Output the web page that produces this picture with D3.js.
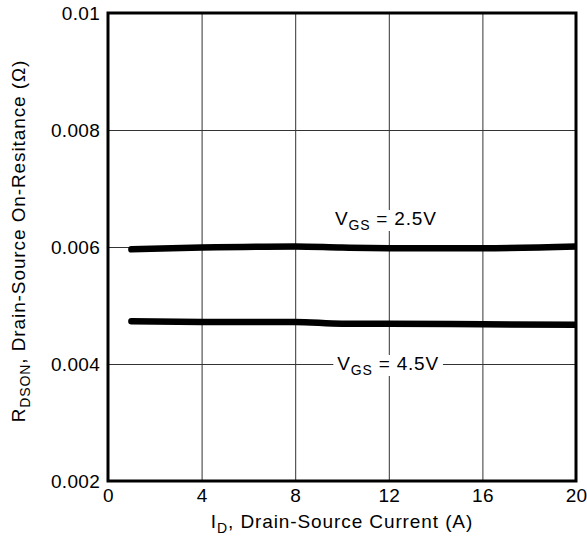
<!DOCTYPE html>
<html>
<head>
<meta charset="utf-8">
<script src="https://cdn.jsdelivr.net/npm/d3@7"></script>
<style>
  body { margin: 0; background: #fff; }
  svg { font-family: "Liberation Sans", Arial, sans-serif; }
</style>
</head>
<body>
<div id="chart"></div>
<script>
// drain current (A) and on-resistance (ohm)
const currentA = [1, 4, 8, 10, 12, 16, 20];
const rds25 = [0.00596, 0.00599, 0.00601, 0.00599, 0.00598, 0.00598, 0.00601];
const rds45 = [0.00473, 0.00472, 0.00472, 0.00469, 0.00469, 0.00468, 0.00467];
const xTicks = [0, 4, 8, 12, 16, 20];
const yTicks = [0.002, 0.004, 0.006, 0.008, 0.01];
const yTickLabels = ["0.002", "0.004", "0.006", "0.008", "0.01"];

function drawChart() {
    let width = 587, height = 541;
    let margin = { top: 13, right: 11, bottom: 60, left: 108 };

    let svg = d3.select("#chart").append("svg")
        .attr("width", width)
        .attr("height", height);

    let x = d3.scaleLinear().domain([0, 20]).range([margin.left, width - margin.right]);
    let y = d3.scaleLinear().domain([0.002, 0.01]).range([height - margin.bottom, margin.top]);

    svg.append("defs").append("clipPath").attr("id", "plot")
        .append("rect")
        .attr("x", x(0)).attr("y", y(0.01))
        .attr("width", x(20) - x(0)).attr("height", y(0.002) - y(0.01));

    // grid
    svg.append("g")
        .attr("transform", `translate(0,${y(0.002)})`)
        .call(d3.axisBottom(x).tickValues(xTicks).tickSize(-(y(0.002) - y(0.01))).tickFormat(d => d).tickPadding(8))
        .call(g => g.select(".domain").remove())
        .call(g => g.selectAll(".tick line").attr("stroke", "#333").attr("stroke-width", 1))
        .call(g => g.selectAll(".tick text").attr("font-size", 19).attr("fill", "#000")
            .attr("letter-spacing", 0.3)
            .attr("font-family", "Liberation Sans, Arial, sans-serif"));

    svg.append("g")
        .attr("transform", `translate(${x(0)},0)`)
        .call(d3.axisLeft(y).tickValues(yTicks).tickSize(-(x(20) - x(0)))
            .tickFormat((d, i) => yTickLabels[i]).tickPadding(8))
        .call(g => g.select(".domain").remove())
        .call(g => g.selectAll(".tick line").attr("stroke", "#333").attr("stroke-width", 1))
        .call(g => g.selectAll(".tick text").attr("font-size", 19).attr("fill", "#000")
            .attr("letter-spacing", 0.3)
            .attr("font-family", "Liberation Sans, Arial, sans-serif"));

    // label boxes hide grid behind the annotations
    let labels = [
        { text: "2.5V", ix: 9.7, v: 0.006376 },
        { text: "4.5V", ix: 9.8, v: 0.004 }
    ];
    labels.forEach((d, i) => {
        let g = svg.append("g");
        let t = g.append("text")
            .attr("x", x(d.ix))
            .attr("y", y(d.v) + (i === 1 ? 6 : 0))
            .attr("font-size", 19)
            .attr("letter-spacing", 0.8);
        t.append("tspan").text("V");
        t.append("tspan").attr("font-size", 14).attr("dy", 5).text("GS");
        t.append("tspan").attr("dy", -5).text(" = " + d.text);
        let b = t.node().getBBox();
        g.insert("rect", "text")
            .attr("x", b.x - 4).attr("y", b.y + 2)
            .attr("width", b.width + 8).attr("height", b.height - 4)
            .attr("fill", "#fff");
    });

    let line = d3.line()
        .x(d => x(d[0]))
        .y(d => y(d[1]))
        .curve(d3.curveMonotoneX);

    [rds25, rds45].forEach(series => {
        svg.append("path")
            .datum(currentA.map((c, i) => [c, series[i]]))
            .attr("clip-path", "url(#plot)")
            .attr("fill", "none")
            .attr("stroke", "#000")
            .attr("stroke-width", 6.5)
            .attr("stroke-linecap", "round")
            .attr("d", line);
    });

    // frame
    svg.append("rect")
        .attr("x", x(0)).attr("y", y(0.01))
        .attr("width", x(20) - x(0)).attr("height", y(0.002) - y(0.01))
        .attr("fill", "none")
        .attr("stroke", "#000")
        .attr("stroke-width", 3);

    // axis titles
    let xt = svg.append("text")
        .attr("x", (x(0) + x(20)) / 2)
        .attr("y", 528)
        .attr("text-anchor", "middle")
        .attr("font-size", 19)
        .attr("letter-spacing", 0.9);
    xt.append("tspan").text("I");
    xt.append("tspan").attr("font-size", 14).attr("dy", 5).text("D");
    xt.append("tspan").attr("dy", -5).text(", Drain-Source Current (A)");

    let yt = svg.append("text")
        .attr("transform", "translate(25,241) rotate(-90)")
        .attr("text-anchor", "middle")
        .attr("font-size", 19)
        .attr("letter-spacing", 0.9);
    yt.append("tspan").text("R");
    yt.append("tspan").attr("font-size", 14).attr("dy", 5).text("DSON");
    yt.append("tspan").attr("dy", -5).text(", Drain-Source On-Resitance (\u03A9)");
}

document.addEventListener("DOMContentLoaded", drawChart);
</script>
</body>
</html>
